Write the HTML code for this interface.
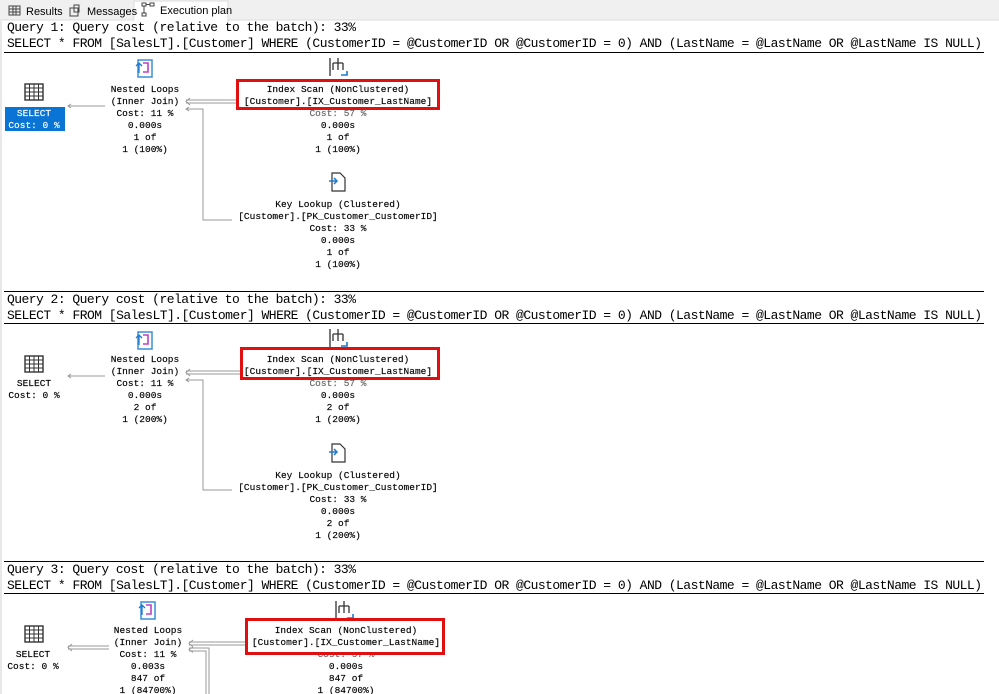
<!DOCTYPE html>
<html><head><meta charset="utf-8"><style>
html,body{margin:0;padding:0;background:#fff;width:999px;height:694px;overflow:hidden}
svg{display:block}
.h{font-family:"Liberation Mono",monospace;font-size:13px;fill:#000}
.n{font-family:"Liberation Mono",monospace;font-size:9.5px;fill:#000;text-anchor:middle;stroke:#000;stroke-width:0.15}
.t{font-family:"Liberation Sans",sans-serif;font-size:11px;fill:#000}
</style></head><body>
<svg width="999" height="694" viewBox="0 0 999 694" xmlns="http://www.w3.org/2000/svg">
<defs>
<g id="nl"><rect x="-7" y="-8" width="14" height="17" fill="#fff" stroke="#3a8fd8" stroke-width="1.5"/><path d="M-2,-5 h5 v9 h-5" fill="none" stroke="#c040c0" stroke-width="1.6"/><path d="M-9,-2 l3,-3 l3,3 M-6,-5 v10" fill="none" stroke="#1e7ad0" stroke-width="1.3"/></g>
<g id="is"><path d="M-8,-9 v18 M0,-9 v5 M-5,-4 h10 M-5,-4 v7 M0,-4 v7 M5,-4 v7" fill="none" stroke="#333" stroke-width="1.3"/><path d="M3,8 h6 v-4" fill="none" stroke="#1e7ad0" stroke-width="1.6"/></g>
<g id="kl"><path d="M-6,-9 h8 l5,5 v13 h-13 z" fill="#fff" stroke="#333" stroke-width="1.2"/><path d="M-9,-1 h8 M-4,-4 l3,3 l-3,3" fill="none" stroke="#1e7ad0" stroke-width="1.5"/></g>
<g id="sel"><rect x="-9" y="-8" width="18" height="16" fill="#fff" stroke="#333" stroke-width="1.4"/><path d="M-9,-4 h18 M-9,0 h18 M-9,4 h18 M-4.5,-8 v16 M0,-8 v16 M4.5,-8 v16" stroke="#333" stroke-width="1"/></g>
</defs>
<rect x="0" y="0" width="999" height="20" fill="#f0f0f0"/>
<line x1="0" y1="20" x2="999" y2="20" stroke="#dcdcdc"/>
<rect x="134" y="1" width="94" height="20" fill="#fff" stroke="#dcdcdc"/>
<rect x="134" y="19" width="93" height="3" fill="#fff"/>
<g stroke="#444" fill="none" stroke-width="1"><rect x="9" y="6" width="11" height="9"/><path d="M9,9 h11 M9,12 h11 M13,6 v9 M16,6 v9"/><rect x="70" y="8" width="8" height="8"/><rect x="74" y="5" width="5" height="7"/><rect x="142" y="3" width="4" height="3"/><rect x="142" y="13" width="4" height="3"/><rect x="150" y="3" width="4" height="3"/><path d="M144,6 v7 M146,4.5 h4"/></g>
<text class="t" x="26" y="15">Results</text>
<text class="t" x="87" y="15">Messages</text>
<text class="t" x="160" y="14">Execution plan</text>
<line x1="1" y1="21" x2="1" y2="694" stroke="#d0d0d0"/>

<!-- Query 1 -->
<g>
<text class="h" x="7" y="31" textLength="349" lengthAdjust="spacing">Query 1: Query cost (relative to the batch): 33%</text>
<text class="h" x="7" y="47" textLength="975" lengthAdjust="spacing">SELECT * FROM [SalesLT].[Customer] WHERE (CustomerID = @CustomerID OR @CustomerID = 0) AND (LastName = @LastName OR @LastName IS NULL)</text>
<line x1="4" y1="52.5" x2="984" y2="52.5" stroke="#000"/>
<use href="#sel" x="34" y="92"/>
<rect x="5" y="107" width="60" height="24" fill="#0a74d4"/>
<text class="n" x="34" y="116" style="fill:#fff;stroke:#fff">SELECT</text>
<text class="n" x="34" y="128" style="fill:#fff;stroke:#fff">Cost: 0 %</text>
<path d="M105,106 H68 M71,104 l-3,2 l3,2" stroke="#999" fill="none"/>
<use href="#nl" x="145" y="68"/>
<text class="n" x="145" y="92">Nested Loops</text>
<text class="n" x="145" y="104">(Inner Join)</text>
<text class="n" x="145" y="116">Cost: 11 %</text>
<text class="n" x="145" y="128">0.000s</text>
<text class="n" x="145" y="140">1 of</text>
<text class="n" x="145" y="152">1 (100%)</text>
<path d="M236,100 H186 M236,103 H186 M190,98 l-4,3.5 l4,3.5" stroke="#999" fill="none"/>
<path d="M232,220 H203 V109 H186 M189,107 l-3,2 l3,2" stroke="#999" fill="none"/>
<use href="#is" x="338" y="67"/>
<text class="n" x="338" y="116" style="fill:#666;stroke:#666">Cost: 57 %</text>
<text class="n" x="338" y="128">0.000s</text>
<text class="n" x="338" y="140">1 of</text>
<text class="n" x="338" y="152">1 (100%)</text>
<rect x="237.5" y="80.5" width="201" height="28" fill="#fff" stroke="#e01010" stroke-width="3"/>
<text class="n" x="338" y="92">Index Scan (NonClustered)</text>
<text class="n" x="338" y="104">[Customer].[IX_Customer_LastName]</text>
<use href="#kl" x="338" y="182"/>
<text class="n" x="338" y="207">Key Lookup (Clustered)</text>
<text class="n" x="338" y="219">[Customer].[PK_Customer_CustomerID]</text>
<text class="n" x="338" y="231">Cost: 33 %</text>
<text class="n" x="338" y="243">0.000s</text>
<text class="n" x="338" y="255">1 of</text>
<text class="n" x="338" y="267">1 (100%)</text>
</g>

<!-- Query 2 -->
<g>
<line x1="4" y1="291.5" x2="984" y2="291.5" stroke="#000"/>
<text class="h" x="7" y="303" textLength="349" lengthAdjust="spacing">Query 2: Query cost (relative to the batch): 33%</text>
<text class="h" x="7" y="319" textLength="975" lengthAdjust="spacing">SELECT * FROM [SalesLT].[Customer] WHERE (CustomerID = @CustomerID OR @CustomerID = 0) AND (LastName = @LastName OR @LastName IS NULL)</text>
<line x1="4" y1="323.5" x2="984" y2="323.5" stroke="#000"/>
<use href="#sel" x="34" y="364"/>
<text class="n" x="34" y="386">SELECT</text>
<text class="n" x="34" y="398">Cost: 0 %</text>
<path d="M105,376 H68 M71,374 l-3,2 l3,2" stroke="#999" fill="none"/>
<use href="#nl" x="145" y="340"/>
<text class="n" x="145" y="362">Nested Loops</text>
<text class="n" x="145" y="374">(Inner Join)</text>
<text class="n" x="145" y="386">Cost: 11 %</text>
<text class="n" x="145" y="398">0.000s</text>
<text class="n" x="145" y="410">2 of</text>
<text class="n" x="145" y="422">1 (200%)</text>
<path d="M240,371 H186 M240,374 H186 M190,369 l-4,3.5 l4,3.5" stroke="#999" fill="none"/>
<path d="M232,490 H203 V380 H186 M189,378 l-3,2 l3,2" stroke="#999" fill="none"/>
<use href="#is" x="338" y="338"/>
<text class="n" x="338" y="386" style="fill:#666;stroke:#666">Cost: 57 %</text>
<text class="n" x="338" y="398">0.000s</text>
<text class="n" x="338" y="410">2 of</text>
<text class="n" x="338" y="422">1 (200%)</text>
<rect x="241.5" y="348.5" width="197" height="30" fill="#fff" stroke="#e01010" stroke-width="3"/>
<text class="n" x="338" y="362">Index Scan (NonClustered)</text>
<text class="n" x="338" y="374">[Customer].[IX_Customer_LastName]</text>
<use href="#kl" x="338" y="453"/>
<text class="n" x="338" y="478">Key Lookup (Clustered)</text>
<text class="n" x="338" y="490">[Customer].[PK_Customer_CustomerID]</text>
<text class="n" x="338" y="502">Cost: 33 %</text>
<text class="n" x="338" y="514">0.000s</text>
<text class="n" x="338" y="526">2 of</text>
<text class="n" x="338" y="538">1 (200%)</text>
</g>

<!-- Query 3 -->
<g>
<line x1="4" y1="561.5" x2="984" y2="561.5" stroke="#000"/>
<text class="h" x="7" y="573" textLength="349" lengthAdjust="spacing">Query 3: Query cost (relative to the batch): 33%</text>
<text class="h" x="7" y="589" textLength="975" lengthAdjust="spacing">SELECT * FROM [SalesLT].[Customer] WHERE (CustomerID = @CustomerID OR @CustomerID = 0) AND (LastName = @LastName OR @LastName IS NULL)</text>
<line x1="4" y1="593.5" x2="984" y2="593.5" stroke="#000"/>
<use href="#sel" x="34" y="634"/>
<text class="n" x="33" y="657">SELECT</text>
<text class="n" x="33" y="669">Cost: 0 %</text>
<path d="M109,646 H68 M109,649 H68 M72,644 l-4,3.5 l4,3.5" stroke="#999" fill="none"/>
<use href="#nl" x="148" y="610"/>
<text class="n" x="148" y="633">Nested Loops</text>
<text class="n" x="148" y="645">(Inner Join)</text>
<text class="n" x="148" y="657">Cost: 11 %</text>
<text class="n" x="148" y="669">0.003s</text>
<text class="n" x="148" y="681">847 of</text>
<text class="n" x="148" y="693">1 (84700%)</text>
<path d="M245,642 H189 M245,645 H189 M193,640 l-4,3.5 l4,3.5" stroke="#999" fill="none"/>
<path d="M206,694 V651 H189 M209,694 V648 H189 M193,647 l-4,2.5 l4,3" stroke="#999" fill="none"/>
<use href="#is" x="344" y="610"/>
<text class="n" x="346" y="657" style="fill:#666;stroke:#666">Cost: 57 %</text>
<text class="n" x="346" y="669">0.000s</text>
<text class="n" x="346" y="681">847 of</text>
<text class="n" x="346" y="693">1 (84700%)</text>
<rect x="246.5" y="619.5" width="197" height="34" fill="#fff" stroke="#e01010" stroke-width="3"/>
<text class="n" x="346" y="633">Index Scan (NonClustered)</text>
<text class="n" x="346" y="645">[Customer].[IX_Customer_LastName]</text>
</g>
</svg>
</body></html>
